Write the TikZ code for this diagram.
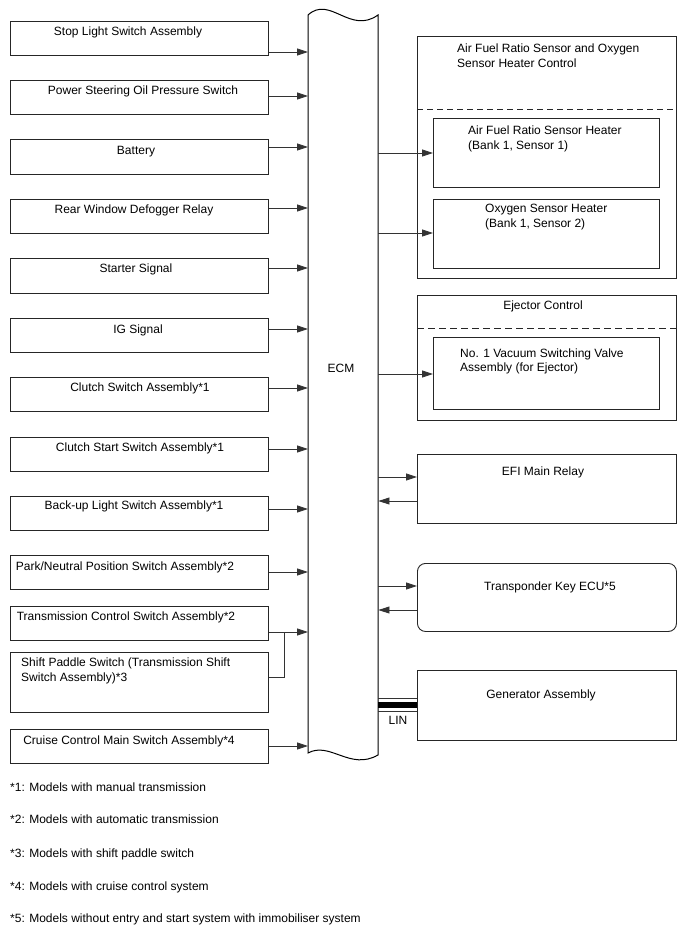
\documentclass[tikz,border=0pt]{standalone}
\usepackage{fontspec}
\setmainfont{Liberation Sans}
\usetikzlibrary{arrows.meta}
\begin{document}
\begin{tikzpicture}[x=1pt,y=-1pt,
  box/.style={draw=black!85, line width=0.9pt, inner sep=0pt, anchor=north west},
  txt/.style={inner sep=0pt, yshift=-1pt, font=\fontsize{12}{15}\selectfont},
  ctxt/.style={txt, anchor=mid},
  ltxt/.style={txt, anchor=mid west},
  arr/.style={draw=black!80, line width=0.8pt, -{Triangle[length=11pt,width=7pt]}},
  conn/.style={draw=black!80, line width=0.8pt},
  dsh/.style={draw=black!85, line width=0.8pt, dash pattern=on 6pt off 4pt}]
\useasboundingbox (0,0) rectangle (688,949);

% ECM
\node[inner sep=0pt, minimum width=70pt, minimum height=738pt, anchor=north west] (ecm) at (308,15) {};
\draw[line width=1pt] (308,15) -- (308,753) .. controls (330,741) and (350,771) .. (378,755)
  -- (378,15) .. controls (350,35) and (330,-5) .. (308,15) -- cycle;
\node[ctxt] (ecmt) at (341,369) {ECM};

% left boxes
\node[box, minimum width=258pt, minimum height=34pt] (b1) at (10,21) {};
\node[box, minimum width=258pt, minimum height=34pt] (b2) at (10,80) {};
\node[box, minimum width=258pt, minimum height=35pt] (b3) at (10,139) {};
\node[box, minimum width=258pt, minimum height=34pt] (b4) at (10,199) {};
\node[box, minimum width=258pt, minimum height=35pt] (b5) at (10,258) {};
\node[box, minimum width=258pt, minimum height=34pt] (b6) at (10,318) {};
\node[box, minimum width=258pt, minimum height=34pt] (b7) at (10,377) {};
\node[box, minimum width=258pt, minimum height=34pt] (b8) at (10,437) {};
\node[box, minimum width=258pt, minimum height=34pt] (b9) at (10,496) {};
\node[box, minimum width=258pt, minimum height=34pt] (b10) at (10,555) {};
\node[box, minimum width=258pt, minimum height=34pt] (b11) at (10,606) {};
\node[box, minimum width=258pt, minimum height=60pt] (b12) at (10,652) {};
\node[box, minimum width=258pt, minimum height=34pt] (b13) at (10,729) {};

\node[ctxt] (t1) at (128,32) {Stop Light Switch Assembly};
\node[ctxt] (t2) at (143,91) {Power Steering Oil Pressure Switch};
\node[ctxt] (t3) at (136,151) {Battery};
\node[ctxt] (t4) at (134,210) {Rear Window Defogger Relay};
\node[ctxt] (t5) at (136,269) {Starter Signal};
\node[ctxt] (t6) at (138,330) {IG Signal};
\node[ctxt] (t7) at (140,388) {Clutch Switch Assembly*1};
\node[ctxt] (t8) at (140,448) {Clutch Start Switch Assembly*1};
\node[ctxt] (t9) at (134,506) {Back-up Light Switch Assembly*1};
\node[ctxt] (t10) at (125,567) {Park/Neutral Position Switch Assembly*2};
\node[ctxt] (t11) at (126,617) {Transmission Control Switch Assembly*2};
\node[ltxt] (t12a) at (21,663) {Shift Paddle Switch (Transmission Shift};
\node[ltxt] (t12b) at (21,678) {Switch Assembly)*3};
\node[ctxt] (t13) at (129,741) {Cruise Control Main Switch Assembly*4};

% left arrows
\draw[arr] (b1.east|-0,52) -- (ecm.west|-0,52);
\draw[arr] (b2.east|-0,96) -- (ecm.west|-0,96);
\draw[arr] (b3.east|-0,147) -- (ecm.west|-0,147);
\draw[arr] (b4.east|-0,208) -- (ecm.west|-0,208);
\draw[arr] (b5.east|-0,268) -- (ecm.west|-0,268);
\draw[arr] (b6.east|-0,329) -- (ecm.west|-0,329);
\draw[arr] (b7.east|-0,388) -- (ecm.west|-0,388);
\draw[arr] (b8.east|-0,449) -- (ecm.west|-0,449);
\draw[arr] (b9.east|-0,509) -- (ecm.west|-0,509);
\draw[arr] (b10.east|-0,572) -- (ecm.west|-0,572);
\draw[arr] (b11.east|-0,632) -- (ecm.west|-0,632);
\coordinate (jn) at (284,632);
\draw[conn] (b12.east|-0,677) -- (jn|-0,677) -- (jn);
\draw[arr] (b13.east|-0,746) -- (ecm.west|-0,746);

% right side
\node[box, minimum width=259pt, minimum height=242pt] (af) at (417,36) {};
\draw[dsh] (af.west|-0,109) -- (af.east|-0,109);
\node[ltxt] (aft1) at (457,49) {Air Fuel Ratio Sensor and Oxygen};
\node[ltxt] (aft2) at (457,64) {Sensor Heater Control};
\node[box, minimum width=226pt, minimum height=69pt] (af1) at (433,118) {};
\node[ltxt] (af1t1) at (468,131) {Air Fuel Ratio Sensor Heater};
\node[ltxt] (af1t2) at (468,146) {(Bank 1, Sensor 1)};
\node[box, minimum width=226pt, minimum height=69pt] (af2) at (433,199) {};
\node[ltxt] (af2t1) at (485,209) {Oxygen Sensor Heater};
\node[ltxt] (af2t2) at (485,224) {(Bank 1, Sensor 2)};
\draw[arr] (ecm.east|-0,153) -- (af1.west|-0,153);
\draw[arr] (ecm.east|-0,233) -- (af2.west|-0,233);

\node[box, minimum width=259pt, minimum height=125pt] (ej) at (417,295) {};
\draw[dsh, dash pattern=on 7pt off 4pt] (ej.west|-0,328) -- (ej.east|-0,328);
\node[ctxt] (ejt) at (543,306) {Ejector Control};
\node[box, minimum width=226pt, minimum height=72pt] (ej1) at (433,337) {};
\node[ltxt] (ej1t1) at (460,354) {No. 1 Vacuum Switching Valve};
\node[ltxt] (ej1t2) at (460,368) {Assembly (for Ejector)};
\draw[arr] (ecm.east|-0,374) -- (ej1.west|-0,374);

\node[box, minimum width=259pt, minimum height=69pt] (efi) at (417,454) {};
\node[ctxt] (efit) at (543,472) {EFI Main Relay};
\draw[arr] (ecm.east|-0,477) -- (efi.west|-0,477);
\draw[arr] (efi.west|-0,501) -- (ecm.east|-0,501);

\node[box, rounded corners=8pt, minimum width=259pt, minimum height=68pt] (tk) at (417,563) {};
\node[ctxt] (tkt) at (550,587) {Transponder Key ECU*5};
\draw[arr] (ecm.east|-0,586) -- (tk.west|-0,586);
\draw[arr] (tk.west|-0,610) -- (ecm.east|-0,610);

\node[box, minimum width=259pt, minimum height=70pt] (gen) at (417,670) {};
\node[ctxt] (gent) at (541,695) {Generator Assembly};
\draw[line width=6.5pt] (ecm.east|-0,705) -- (gen.west|-0,705);
\draw[conn] (ecm.east|-0,698) -- (gen.west|-0,698);
\draw[conn] (ecm.east|-0,711.5) -- (gen.west|-0,711.5);
\node[ctxt] (lin) at (398,721) {LIN};

% footnotes
\node[ltxt] (f1) at (10,788) {*1: Models with manual transmission};
\node[ltxt] (f2) at (10,820) {*2: Models with automatic transmission};
\node[ltxt] (f3) at (10,854) {*3: Models with shift paddle switch};
\node[ltxt] (f4) at (10,887) {*4: Models with cruise control system};
\node[ltxt] (f5) at (10,919) {*5: Models without entry and start system with immobiliser system};
\end{tikzpicture}
\end{document}
